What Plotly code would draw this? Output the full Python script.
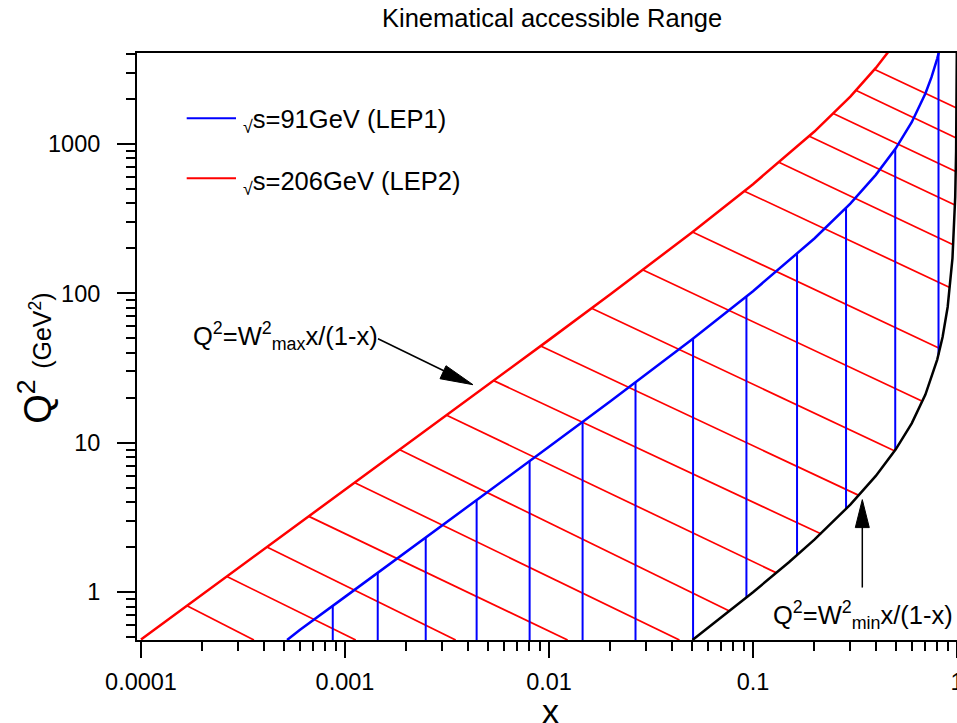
import plotly.graph_objects as go

# ---------------- data ----------------
# upper kinematic limit, sqrt(s)=206 GeV (LEP2)
red_x = [1e-4, 2e-4, 5e-4, 1e-3, 2e-3, 5e-3, 0.01, 0.02, 0.05, 0.1, 0.2, 0.3, 0.4, 0.46]
red_q2 = [0.483, 0.966, 2.42, 4.84, 9.68, 24.3, 48.8, 98.6, 254, 537, 1208, 2070, 3220, 4115]
# upper kinematic limit, sqrt(s)=91 GeV (LEP1)
blue_x = [0.00052, 0.0006, 0.001, 0.002, 0.005, 0.01, 0.02, 0.05, 0.1, 0.2, 0.3, 0.4, 0.5, 0.6, 0.7, 0.75, 0.8, 0.82]
blue_q2 = [0.479, 0.558, 0.931, 1.864, 4.67, 9.39, 18.98, 48.9, 103.3, 232.5, 398.6, 620, 930, 1395, 2170, 2790, 3720, 4237]
# lower limit Q2 = W2min x/(1-x)
black_x = [0.0505, 0.07, 0.1, 0.15, 0.2, 0.3, 0.4, 0.5, 0.6, 0.7, 0.8, 0.85, 0.9, 0.95, 0.97, 0.98, 0.99, 0.995, 0.9978]
black_q2 = [0.479, 0.677, 1.0, 1.588, 2.25, 3.857, 6.0, 9.0, 13.5, 21.0, 36.0, 51.0, 81.0, 171, 291, 441, 891, 1791, 4080]
# red hatching (LEP2 region): start and end points
hatch_x0 = [1.680e-4, 2.637e-4, 4.14e-4, 6.65e-4, 1.117e-3, 1.855e-3, 3.15e-3, 5.354e-3, 9.10e-3,
            0.01616, 0.02873, 0.05049, 0.09077, 0.1347, 0.1889, 0.2475, 0.3208, 0.3975]
hatch_q0 = [0.811, 1.273, 2.005, 3.217, 5.403, 8.98, 15.27, 26.05, 44.36,
            79.37, 143.6, 256.9, 482.3, 751, 1124, 1597, 2275, 3128]
hatch_x1 = [3.577e-4, 1.129e-3, 3.488e-3, 0.01234, 0.0436, 0.0766, 0.1303, 0.2163, 0.332,
            0.4927, 0.668, 0.8089, 0.9211, 0.958, 0.9774, 0.9864, 0.9918, 0.99485]
hatch_q1 = [0.479, 0.479, 0.479, 0.479, 0.479, 0.749, 1.348, 2.449, 4.43,
            8.855, 19.11, 43.22, 109.5, 211, 390, 653, 1095, 1738]
# blue hatching (LEP1 region): vertical lines
vert_x = [8.71e-4, 1.447e-3, 2.487e-3, 4.418e-3, 8.035e-3, 0.01461, 0.02655, 0.05084,
          0.09284, 0.1644, 0.2858, 0.498, 0.8116]
vert_lo = [0.479, 0.479, 0.479, 0.479, 0.479, 0.479, 0.479, 0.482, 0.921, 1.770, 3.60, 8.93, 38.8]
vert_hi = [0.811, 1.348, 2.319, 4.127, 7.53, 13.79, 25.37, 49.81, 95.2, 182.9, 372.2, 922.6, 4100]

x_tickvals = [1e-4, 1e-3, 1e-2, 1e-1, 1]
x_ticktext = ["0.0001", "0.001", "0.01", "0.1", "1"]
y_tickvals = [1, 10, 100, 1000]
y_ticktext = ["1", "10", "100", "1000"]

# ---------------- layout geometry ----------------
W, H = 957, 723
ML, MR, MT, MB = 137, 0, 53, 82.5
PW, PH = W - ML - MR, H - MT - MB
FONT = "Liberation Sans, Arial, sans-serif"


def px(xp):
    return (xp - ML) / PW


def py(yp):
    return (H - MB - yp) / PH


fig = go.Figure()

# red hatching
hx, hy = [], []
for a, b, c, d in zip(hatch_x0, hatch_q0, hatch_x1, hatch_q1):
    hx += [a, c, None]
    hy += [b, d, None]
fig.add_trace(go.Scatter(x=hx, y=hy, mode="lines", line=dict(color="#ff0000", width=1.7),
                         hoverinfo="skip", showlegend=False))

# blue verticals
vx, vy = [], []
for a, lo, hi in zip(vert_x, vert_lo, vert_hi):
    vx += [a, a, None]
    vy += [lo, hi, None]
fig.add_trace(go.Scatter(x=vx, y=vy, mode="lines", line=dict(color="#0000ff", width=2),
                         hoverinfo="skip", showlegend=False))

fig.add_trace(go.Scatter(x=black_x, y=black_q2, mode="lines", line=dict(color="black", width=2.5),
                         showlegend=False))
fig.add_trace(go.Scatter(x=blue_x, y=blue_q2, mode="lines", line=dict(color="#0000ff", width=2.5),
                         showlegend=False))
fig.add_trace(go.Scatter(x=red_x, y=red_q2, mode="lines", line=dict(color="#ff0000", width=2.5),
                         showlegend=False))

x_minor = [m * 10 ** e for e in range(-4, 0) for m in range(2, 10)]
y_minor = [m * 10 ** e for e in range(-1, 4) for m in range(2, 10)]

fig.update_xaxes(type="log", range=[-4.0196, 0], showline=True, linecolor="black", linewidth=2,
                 mirror=True, ticks="outside", ticklen=16, tickwidth=2, tickcolor="black",
                 tickvals=x_tickvals, ticktext=x_ticktext, showgrid=False, zeroline=False,
                 tickfont=dict(family=FONT, size=23.5, color="black"),
                 ticklabelstandoff=4, ticklabeloverflow="allow",
                 minor=dict(tickvals=x_minor, ticks="outside", ticklen=9, tickwidth=2,
                            tickcolor="black", showgrid=False),
                 automargin=False)
fig.update_yaxes(type="log", range=[-0.3195, 3.6076], showline=True, linecolor="black", linewidth=2,
                 ticks="outside", ticklen=18, tickwidth=2, tickcolor="black",
                 tickvals=y_tickvals, ticktext=y_ticktext, showgrid=False, zeroline=False,
                 tickfont=dict(family=FONT, size=23.5, color="black"),
                 ticklabelstandoff=12,
                 minor=dict(tickvals=y_minor, ticks="outside", ticklen=9, tickwidth=2,
                            tickcolor="black", showgrid=False),
                 automargin=False)

shapes = []
# legend samples
shapes.append(dict(type="line", xref="paper", yref="paper", x0=px(186.7), x1=px(236),
                   y0=py(118.3), y1=py(118.3), line=dict(color="#0000ff", width=2)))
shapes.append(dict(type="line", xref="paper", yref="paper", x0=px(186.7), x1=px(236),
                   y0=py(178.3), y1=py(178.3), line=dict(color="#ff0000", width=2)))
# arrow 1 (to upper limit)
shapes.append(dict(type="line", xref="paper", yref="paper", x0=px(378), y0=py(339),
                   x1=px(452), y1=py(375), line=dict(color="black", width=1.5)))
shapes.append(dict(type="path", xref="paper", yref="paper",
                   path="M {} {} L {} {} L {} {} Z".format(px(473), py(385), px(446), py(366),
                                                           px(440), py(379)),
                   fillcolor="black", line=dict(color="black", width=1)))
# arrow 2 (to lower limit)
shapes.append(dict(type="line", xref="paper", yref="paper", x0=px(862.3), y0=py(588),
                   x1=px(862.3), y1=py(525), line=dict(color="black", width=1.5)))
shapes.append(dict(type="path", xref="paper", yref="paper",
                   path="M {} {} L {} {} L {} {} Z".format(px(862.3), py(500), px(855.3), py(528),
                                                           px(869.3), py(528)),
                   fillcolor="black", line=dict(color="black", width=1)))

ann = []
ann.append(dict(text="Kinematical accessible Range", xref="paper", yref="paper",
                x=px(552), y=py(18), xanchor="center", yanchor="middle", showarrow=False,
                font=dict(family=FONT, size=25.5, color="black")))
ann.append(dict(text="<sub>\u221a</sub>s=91GeV (LEP1)", xref="paper", yref="paper",
                x=px(241), y=py(121), xanchor="left", yanchor="middle", showarrow=False,
                font=dict(family=FONT, size=25.5, color="black")))
ann.append(dict(text="<sub>\u221a</sub>s=206GeV (LEP2)", xref="paper", yref="paper",
                x=px(241), y=py(183), xanchor="left", yanchor="middle", showarrow=False,
                font=dict(family=FONT, size=25.5, color="black")))
ann.append(dict(text="Q<sup>2</sup>=W<sup>2</sup><sub>max</sub>x/(1-x)", xref="paper", yref="paper",
                x=px(191), y=py(336), xanchor="left", yanchor="middle", showarrow=False,
                font=dict(family=FONT, size=25.5, color="black")))
ann.append(dict(text="Q<sup>2</sup>=W<sup>2</sup><sub>min</sub>x/(1-x)", xref="paper", yref="paper",
                x=px(771), y=py(615), xanchor="left", yanchor="middle", showarrow=False,
                font=dict(family=FONT, size=25.5, color="black")))
ann.append(dict(text="x", xref="paper", yref="paper", x=px(550), y=py(712),
                xanchor="center", yanchor="middle", showarrow=False,
                font=dict(family=FONT, size=34, color="black")))
ann.append(dict(text="Q<sup>2</sup> <span style='font-size:25px'>(GeV<sup>2</sup>)</span>",
                xref="paper", yref="paper", x=px(35), y=py(359), textangle=-90,
                xanchor="center", yanchor="middle", showarrow=False,
                font=dict(family=FONT, size=38, color="black")))

fig.update_layout(width=W, height=H, margin=dict(l=ML, r=MR, t=MT, b=MB, pad=0),
                  paper_bgcolor="white", plot_bgcolor="white", showlegend=False,
                  font=dict(family=FONT, color="black"), shapes=shapes, annotations=ann)

fig.write_html("out.html", config={"displayModeBar": False},
               post_script="document.body.style.margin='0';document.body.style.overflow='hidden';"
                           "document.documentElement.style.overflow='hidden';")
